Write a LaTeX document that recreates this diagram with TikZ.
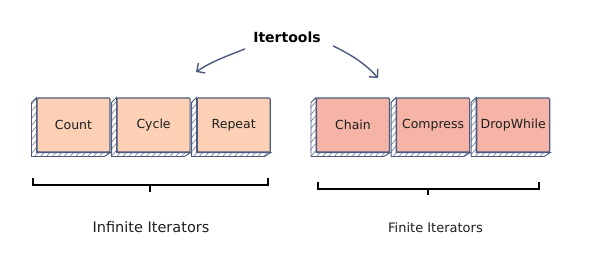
\documentclass[tikz,border=0pt]{standalone}
\usepackage{fontspec}
\setmainfont{DejaVu Sans}
\usetikzlibrary{arrows.meta, patterns.meta, positioning}
\definecolor{inkblue}{HTML}{4B5A7E}
\definecolor{peach}{HTML}{FBD0B5}
\definecolor{salmon}{HTML}{F5B4A6}
\definecolor{textgray}{HTML}{1E1E1E}

\begin{document}
\begin{tikzpicture}[x=1pt, y=-1pt, >={Straight Barb[length=6pt, width=12pt]},
            iterbox/.style={draw=inkblue, line width=1.1pt, minimum width=73pt,
              minimum height=54pt, inner sep=0pt, text=textgray, rounded corners=1pt,
              font=\fontsize{12.5}{15}\selectfont},
            extrude/.style={draw=inkblue, line width=0.9pt, fill=white,
              pattern={Lines[angle=50, distance=4.5pt, line width=0.6pt]},
              pattern color=inkblue!80},
            sketcharrow/.style={->, draw=inkblue, line width=1.4pt, line cap=round},
            bracket/.style={draw=black, line width=1.6pt}]

        \useasboundingbox (0,0) rectangle (599,268);

        % --- Title ---
        \node[font=\bfseries\fontsize{14}{17}\selectfont] (title) at (287,37) {Itertools};

        % --- Boxes ---
        \node[iterbox, fill=peach]  (count)     at (73.5,125) {Count};
        \node[iterbox, fill=peach]  (cycle)     [right=6pt of count] {Cycle};
        \node[iterbox, fill=peach]  (repeat)    [right=6pt of cycle] {Repeat};
        \node[iterbox, fill=salmon] (chain)     at (353,125) {Chain};
        \node[iterbox, fill=salmon] (compress)  [right=6pt of chain] {Compress};
        \node[iterbox, fill=salmon] (dropwhile) [right=6pt of compress] {DropWhile};

        % --- Hatched sides ---
        \foreach \n in {count,cycle,repeat,chain,compress,dropwhile}
        \draw[extrude] (\n.north west) -- ++(-5,5) -- ++(0,54) -- ++(73,0)
        -- (\n.south east) -- (\n.south west) -- cycle;

        % --- Arrows ---
        \coordinate (ltip) at (196,72);
        \coordinate (rtip) at (378,78);
        \draw[sketcharrow] ([shift={(-5,3)}]title.south west)
        .. controls (230,55) and (212,61) .. (ltip);
        \draw[sketcharrow] ([shift={(9,0)}]title.south east)
        .. controls (345,52) and (362,60) .. (rtip);

        % --- Brackets ---
        \draw[bracket] (33,178) |- (268,185) -- (268,178);
        \draw[bracket] (150,185) -- (150,192);
        \draw[bracket] (318,182) |- (539,189) -- (539,182);
        \draw[bracket] (428,189) -- (428,195);

        % --- Group labels ---
        \node[text=textgray, font=\fontsize{14.5}{17}\selectfont] (infinite) at (151,227) {Infinite Iterators};
        \node[text=textgray, font=\fontsize{13}{16}\selectfont]   (finite)   at (435.5,228) {Finite Iterators};

    \end{tikzpicture}
\end{document}
